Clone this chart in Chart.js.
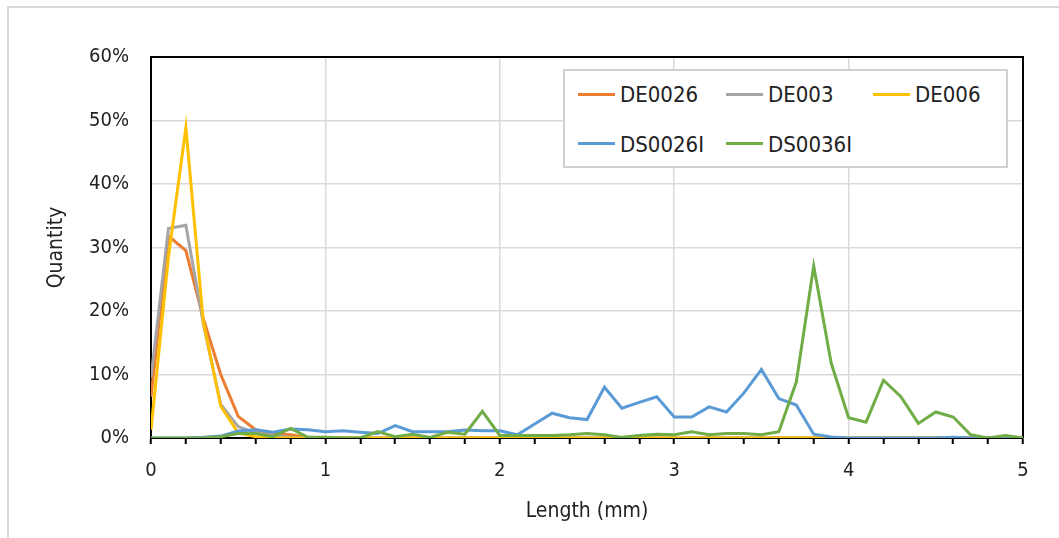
<!DOCTYPE html>
<html>
<head>
<meta charset="utf-8">
<script src="https://cdn.jsdelivr.net/npm/chart.js@4"></script>
<style>
  body { margin: 0; background: #fff; }
  #wrap { position: relative; width: 1059px; height: 538px; overflow: hidden;
          font-family: "DejaVu Sans Condensed", Roboto, sans-serif; }
  #frame { position: absolute; left: 7px; top: 6px; right: -10px; bottom: -10px;
           border-top: 2px solid #d9d9d9; border-left: 2px solid #d9d9d9; }
  #chart { position: absolute; left: 0; top: 0; }
  #legend { position: absolute; left: 563px; top: 69px; width: 441px; height: 95px;
            border: 2px solid #d0d0d0; background: #fff; }
  .item { position: absolute; height: 30px; font-size: 22px; color: #222; line-height: 30px; white-space: nowrap; }
  .item span.swatch { position: absolute; left: 0; width: 37px; height: 3px; }
  .item span.label { position: absolute; left: 42px; top: 0; }
</style>
</head>
<body>
<div id="wrap">
  <div id="frame"></div>
  <canvas id="chart" width="1059" height="538"></canvas>
  <div id="legend"></div>
</div>
<script>
const FONT = '"DejaVu Sans Condensed", Roboto, sans-serif';

// Length classes (mm)
const lengths = [0, 0.1, 0.2, 0.3, 0.4, 0.5, 0.6, 0.7, 0.8, 0.9,
                 1.0, 1.1, 1.2, 1.3, 1.4, 1.5, 1.6, 1.7, 1.8, 1.9,
                 2.0, 2.1, 2.2, 2.3, 2.4, 2.5, 2.6, 2.7, 2.8, 2.9,
                 3.0, 3.1, 3.2, 3.3, 3.4, 3.5, 3.6, 3.7, 3.8, 3.9,
                 4.0, 4.1, 4.2, 4.3, 4.4, 4.5, 4.6, 4.7, 4.8, 4.9, 5.0];

// Quantity (%) per series
const de0026 = [6.5, 31.8, 29.5, 18.8, 10.0, 3.4, 1.3, 0.7, 0.5, 0.1,
                0, 0, 0, 0, 0, 0, 0, 0, 0, 0,
                0, 0, 0, 0, 0, 0, 0, 0, 0, 0,
                0, 0, 0, 0, 0, 0, 0, 0, 0, 0,
                0, 0, 0, 0, 0, 0, 0, 0, 0, 0, 0];
const de003 = [9.5, 33.0, 33.5, 18.0, 5.3, 1.8, 0.8, 0.4, 0.1, 0,
               0, 0, 0, 0, 0, 0, 0, 0, 0, 0,
               0, 0, 0, 0, 0, 0, 0, 0, 0, 0,
               0, 0, 0, 0, 0, 0, 0, 0, 0, 0,
               0, 0, 0, 0, 0, 0, 0, 0, 0, 0, 0];
const de006 = [1.3, 28.5, 48.9, 18.3, 5.0, 0.8, 0.2, 0, 0, 0,
               0, 0, 0, 0, 0, 0, 0, 0, 0, 0,
               0, 0, 0, 0, 0, 0, 0, 0, 0, 0,
               0, 0, 0, 0, 0, 0, 0, 0, 0, 0,
               0, 0, 0, 0, 0, 0, 0, 0, 0, 0, 0];
const ds0026i = [0, 0, 0, 0.1, 0.3, 1.1, 1.3, 0.9, 1.4, 1.3,
                 1.0, 1.15, 0.9, 0.7, 1.95, 1.0, 1.0, 1.0, 1.25, 1.15,
                 1.15, 0.5, 2.2, 3.9, 3.2, 2.9, 8.0, 4.7, 5.6, 6.5,
                 3.3, 3.3, 4.9, 4.1, 7.1, 10.8, 6.2, 5.2, 0.6, 0.15,
                 0, 0, 0, 0, 0, 0, 0.1, 0, 0, 0, 0];
const ds0036i = [0, 0, 0, 0, 0.2, 0.7, 0.7, 0.2, 1.5, 0.1,
                 0.1, 0, 0, 1.0, 0.2, 0.6, 0.1, 0.9, 0.6, 4.2,
                 0.4, 0.4, 0.4, 0.4, 0.5, 0.7, 0.5, 0.1, 0.4, 0.6,
                 0.5, 1.0, 0.5, 0.7, 0.7, 0.5, 1.0, 8.8, 27.1, 11.8,
                 3.2, 2.5, 9.1, 6.5, 2.3, 4.1, 3.3, 0.5, 0, 0.4, 0];

const seriesNames = ['DE0026', 'DE003', 'DE006', 'DS0026I', 'DS0036I'];
const seriesValues = [de0026, de003, de006, ds0026i, ds0036i];
const seriesColors = ['#ED7D31', '#A5A5A5', '#FFC000', '#5B9BD5', '#70AD47'];

const yTicks = [0, 10, 20, 30, 40, 50, 60];

const datasets = seriesNames.map((name, i) => ({
    label: name,
    data: lengths.map((x, j) => ({ x: x, y: seriesValues[i][j] })),
    borderColor: seriesColors[i],
    backgroundColor: seriesColors[i],
    borderWidth: 3,
    pointRadius: 0,
    tension: 0,
    // later series on top, like the original
    order: seriesNames.length - i
}));

const isWhole = v => Math.abs(v - Math.round(v)) < 1e-6;

// plot area outline on top and right
const frameBox = {
    id: 'frameBox',
    beforeDatasetsDraw(chart) {
        const { ctx, chartArea: a } = chart;
        ctx.save();
        ctx.strokeStyle = '#000';
        ctx.lineWidth = 2;
        ctx.beginPath();
        ctx.moveTo(a.left, a.top);
        ctx.lineTo(a.right, a.top);
        ctx.lineTo(a.right, a.bottom);
        ctx.stroke();
        ctx.restore();
    }
};

const chart = new Chart(document.getElementById('chart'), {
    type: 'line',
    data: { datasets: datasets },
    plugins: [frameBox],
    options: {
        responsive: false,
        animation: false,
        layout: { padding: { top: 57, right: 36, left: 0, bottom: 0 } },
        plugins: { legend: { display: false }, tooltip: { enabled: false } },
        scales: {
            x: {
                type: 'linear',
                min: 0,
                max: 5,
                afterFit: s => { s.height = 100; },
                ticks: {
                    stepSize: 0.2,
                    autoSkip: false,
                    maxRotation: 0,
                    padding: 15,
                    color: '#222',
                    font: { family: FONT, size: 20 },
                    callback: v => isWhole(v) ? String(Math.round(v)) : ''
                },
                grid: {
                    color: ctx => isWhole(ctx.tick.value) ? '#d9d9d9' : 'rgba(0,0,0,0)',
                    lineWidth: 1.5,
                    tickColor: '#000',
                    tickWidth: 2,
                    tickLength: 6
                },
                border: { color: '#000', width: 2 },
                title: {
                    display: true,
                    text: 'Length (mm)',
                    color: '#222',
                    font: { family: FONT, size: 21 },
                    padding: { top: 0, bottom: 14 }
                }
            },
            y: {
                min: yTicks[0],
                max: yTicks[yTicks.length - 1],
                afterFit: s => { s.width = 151; },
                afterBuildTicks: s => { s.ticks = yTicks.map(v => ({ value: v })); },
                ticks: {
                    padding: 22,
                    color: '#222',
                    font: { family: FONT, size: 20 },
                    callback: v => v + '%'
                },
                grid: { color: '#d9d9d9', lineWidth: 1.5, drawTicks: false },
                border: { color: '#000', width: 2 },
                title: {
                    display: true,
                    text: 'Quantity',
                    color: '#222',
                    font: { family: FONT, size: 21 },
                    padding: { top: 44, bottom: 0 }
                }
            }
        }
    }
});

// legend box, three per row
const legend = document.getElementById('legend');
const colX = [13, 161, 308];
const rowY = [9, 59];
const swatchY = [13, 12];
chart.data.datasets.forEach((ds, i) => {
    const row = Math.floor(i / 3);
    const item = document.createElement('div');
    item.className = 'item';
    item.style.left = colX[i % 3] + 'px';
    item.style.top = rowY[row] + 'px';
    item.innerHTML = `<span class="swatch" style="top:${swatchY[row]}px;background:${ds.borderColor}"></span><span class="label">${ds.label}</span>`;
    legend.appendChild(item);
});
</script>
</body>
</html>
